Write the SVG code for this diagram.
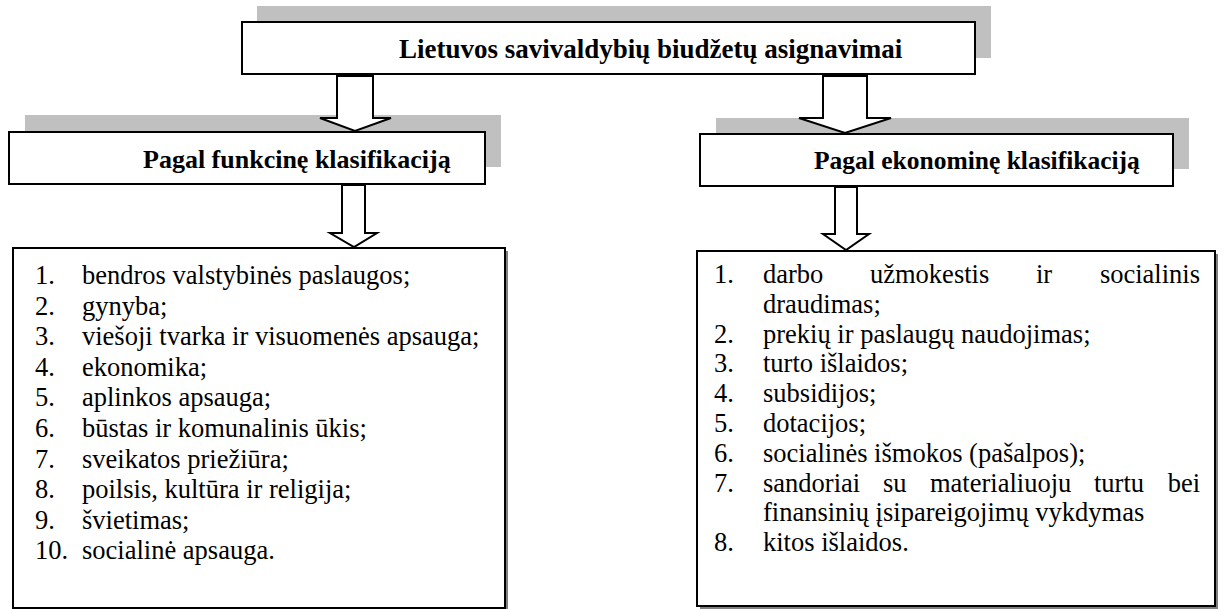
<svg xmlns="http://www.w3.org/2000/svg" width="1225" height="609" viewBox="0 0 1225 609">
<style>
.sh{fill:#c0c0c0}
.lsh{fill:#808080}
.box{fill:#fff;stroke:#000;stroke-width:2}
.h{font-family:"Liberation Serif","Times New Roman",serif;font-weight:bold;fill:#000}
.t{font-family:"Liberation Serif","Times New Roman",serif;font-size:26.5px;fill:#000}
.arr{fill:#fff;stroke:#000;stroke-width:2;stroke-linejoin:miter}
</style>
<rect width="1225" height="609" fill="#fff"/>
<g id="title">
<rect class="sh" x="257" y="6" width="734" height="52"/>
<rect class="box" x="242" y="22" width="733" height="52"/>
<text class="h" x="399" y="58" font-size="27">Lietuvos savivaldybių biudžetų asignavimai</text>
</g>
<g id="func">
<rect class="sh" x="25" y="115" width="476" height="52"/>
<rect class="box" x="9" y="132" width="476" height="52"/>
<text class="h" x="143" y="168" font-size="26">Pagal funkcinę klasifikaciją</text>
</g>
<g id="econ">
<rect class="sh" x="716" y="118" width="473" height="51"/>
<rect class="box" x="700" y="134" width="473" height="52"/>
<text class="h" x="814" y="169" font-size="25.5">Pagal ekonominę klasifikaciją</text>
</g>
<g id="funcList">
<rect class="lsh" x="16" y="251" width="492" height="360"/>
<rect class="box" x="13" y="248" width="492" height="360"/>
<g class="t">
<text x="35" y="284">1.</text><text x="82" y="284">bendros valstybinės paslaugos;</text>
<text x="35" y="314.6">2.</text><text x="82" y="314.6">gynyba;</text>
<text x="35" y="345.2">3.</text><text x="82" y="345.2">viešoji tvarka ir visuomenės apsauga;</text>
<text x="35" y="375.8">4.</text><text x="82" y="375.8">ekonomika;</text>
<text x="35" y="406.4">5.</text><text x="82" y="406.4">aplinkos apsauga;</text>
<text x="35" y="437">6.</text><text x="82" y="437">būstas ir komunalinis ūkis;</text>
<text x="35" y="467.6">7.</text><text x="82" y="467.6">sveikatos priežiūra;</text>
<text x="35" y="498.2">8.</text><text x="82" y="498.2">poilsis, kultūra ir religija;</text>
<text x="35" y="528.8">9.</text><text x="82" y="528.8">švietimas;</text>
<text x="35" y="559.4">10.</text><text x="82" y="559.4">socialinė apsauga.</text>
</g>
</g>
<g id="econList">
<rect class="lsh" x="700" y="254" width="518" height="356"/>
<rect class="box" x="697" y="251" width="518" height="355"/>
<g class="t">
<text x="714" y="283">1.</text>
<text y="283"><tspan x="763">darbo</tspan><tspan x="870">užmokestis</tspan><tspan x="1036">ir</tspan></text>
<text x="1200" y="283" text-anchor="end">socialinis</text>
<text x="763" y="312.8">draudimas;</text>
<text x="714" y="342.6">2.</text><text x="763" y="342.6">prekių ir paslaugų naudojimas;</text>
<text x="714" y="372.4">3.</text><text x="763" y="372.4">turto išlaidos;</text>
<text x="714" y="402.2">4.</text><text x="763" y="402.2">subsidijos;</text>
<text x="714" y="432">5.</text><text x="763" y="432">dotacijos;</text>
<text x="714" y="461.8">6.</text><text x="763" y="461.8">socialinės išmokos (pašalpos);</text>
<text x="714" y="491.6">7.</text>
<text y="491.6"><tspan x="763">sandoriai</tspan><tspan x="883">su</tspan><tspan x="930">materialiuoju</tspan><tspan x="1094">turtu</tspan></text>
<text x="1200" y="491.6" text-anchor="end">bei</text>
<text x="763" y="521.4">finansinių įsipareigojimų vykdymas</text>
<text x="714" y="551.2">8.</text><text x="763" y="551.2">kitos išlaidos.</text>
</g>
</g>
<g id="connectors">
<polygon class="arr" points="337,76 373,76 373,118 391,118 355,131 320,118 337,118"/>
<polygon class="arr" points="823,76 867,76 867,118 891,118 845,133 799,118 823,118"/>
<polygon class="arr" points="342,185 365,185 365,233 377,233 354,247 330,233 342,233"/>
<polygon class="arr" points="835,187 857,187 857,234 869,234 846,250 823,234 835,234"/>
</g>
</svg>
